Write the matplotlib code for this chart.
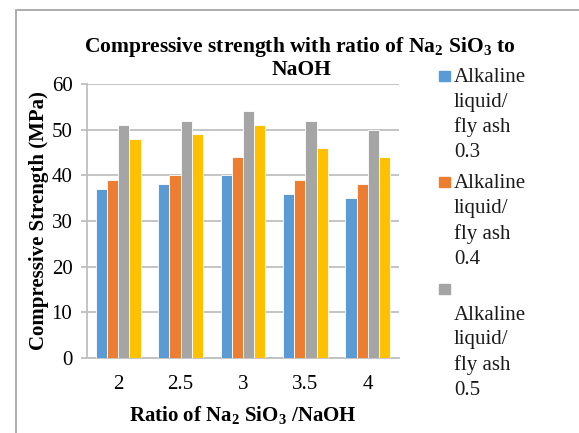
import numpy as np
import matplotlib
matplotlib.use("Agg")
import matplotlib.pyplot as plt
from matplotlib.patches import Rectangle

ratios = ["2", "2.5", "3", "3.5", "4"]
series_names = ["Alkaline\nliquid/\nfly ash\n0.3",
                "Alkaline\nliquid/\nfly ash\n0.4",
                "\nAlkaline\nliquid/\nfly ash\n0.5",
                "Alkaline\nliquid/\nfly ash\n0.6"]
s03 = [37, 38, 40, 36, 35]
s04 = [39, 40, 44, 39, 38]
s05 = [51, 52, 54, 52, 50]
s06 = [48, 49, 51, 46, 44]
yticks = [0, 10, 20, 30, 40, 50, 60]

colors = ["#5B9BD5", "#ED7D31", "#A5A5A5", "#FFC000"]

plt.rcParams['font.family'] = ['Liberation Serif', 'DejaVu Serif']
plt.rcParams['mathtext.fontset'] = 'custom'
plt.rcParams['mathtext.rm'] = 'Liberation Serif'
plt.rcParams['mathtext.bf'] = 'Liberation Serif:bold'

W, H = 579, 433
fig = plt.figure(figsize=(W / 100, H / 100), dpi=100)
ax = fig.add_axes([87 / W, 1 - 358 / H, (399 - 87) / W, (358 - 84) / H])

# chart border
fig.add_artist(Rectangle((16 / W, -0.1), 1.2, 1 - 10 / H + 0.1, transform=fig.transFigure,
                         fill=False, edgecolor="#A6A6A6", linewidth=1.3))

x = np.arange(len(ratios))
bw = 0.18
all_series = [s03, s04, s05, s06]
for i, vals in enumerate(all_series):
    ax.bar(x + (i - 1.5) * bw, vals, bw, color=colors[i], edgecolor="white",
           linewidth=0.6, zorder=3)

ax.set_xlim(-0.5, len(ratios) - 0.5)
ax.set_ylim(0, 60)
ax.set_yticks(yticks)
ax.set_xticks(x)
ax.set_xticklabels(ratios)
ax.grid(axis="y", color="#BFBFBF", linewidth=1.3, zorder=0)
for sp in ["top", "right"]:
    ax.spines[sp].set_visible(False)
ax.spines["left"].set_color("#BFBFBF")
ax.spines["bottom"].set_color("#BFBFBF")
ax.spines["left"].set_linewidth(1.3)
ax.spines["bottom"].set_linewidth(1.3)
ax.tick_params(axis="y", length=4.5, width=1.3, color="#BFBFBF", labelsize=15, pad=6)
ax.tick_params(axis="x", length=0, labelsize=15, pad=12)

ax.set_ylabel("Compressive Strength (MPa)", fontsize=15, fontweight="bold", labelpad=2)
ax.set_xlabel(r"Ratio of Na$_\mathbf{2}$ SiO$_\mathbf{3}$ /NaOH", fontsize=15,
              fontweight="bold", labelpad=8)

fig.text(300 / W, 1 - 52 / H,
         r"Compressive strength with ratio of Na$_\mathbf{2}$ SiO$_\mathbf{3}$ to",
         ha="center", va="baseline", fontsize=15.5, fontweight="bold")
fig.text(301 / W, 1 - 75 / H, "NaOH", ha="center", va="baseline",
         fontsize=15.5, fontweight="bold")

# legend (only three entries fit in the visible area)
for i in range(3):
    top = 71 + i * 106.5
    fig.add_artist(Rectangle((439 / W, 1 - (top + 10) / H), 11 / W, 10 / H,
                             transform=fig.transFigure, color=colors[i]))
    fig.text(454 / W, 1 - (top - 3) / H, series_names[i], ha="left", va="top",
             fontsize=15, linespacing=1.4, color="#1A1A1A")

fig.savefig("out.png", dpi=100)
